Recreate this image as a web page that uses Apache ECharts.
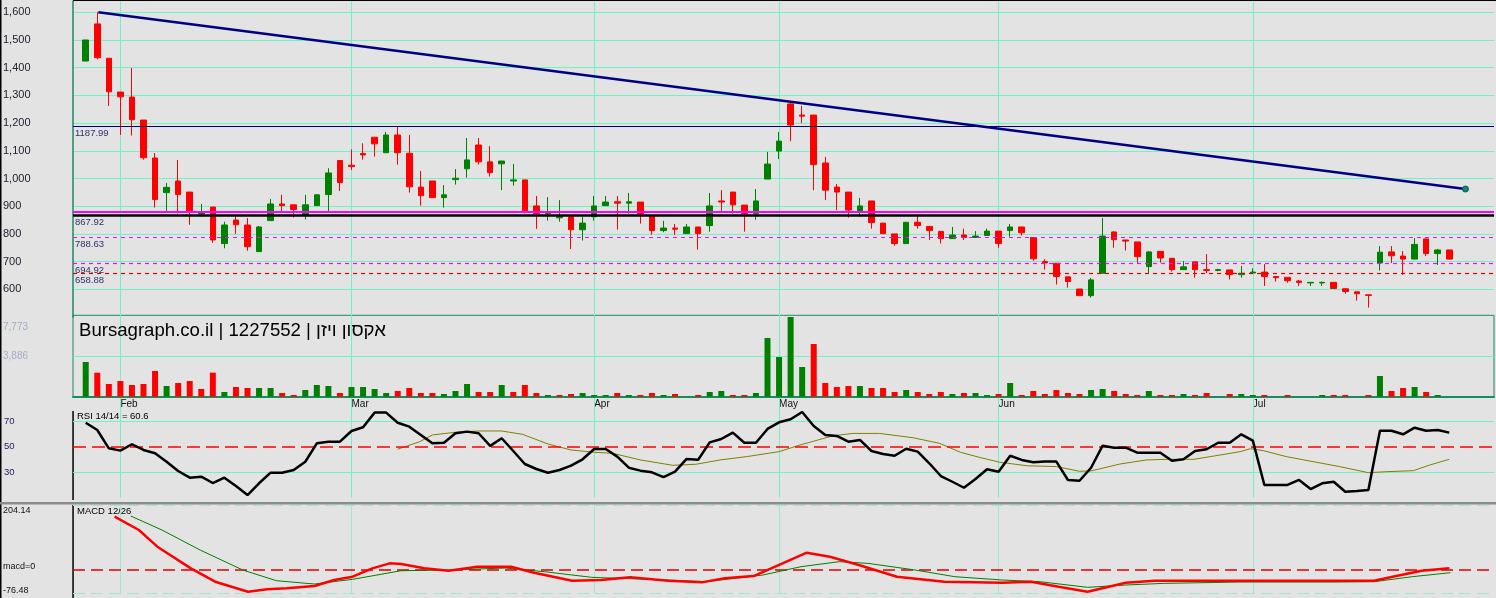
<!DOCTYPE html>
<html><head><meta charset="utf-8">
<style>html,body{margin:0;padding:0;background:#e3e3e3;overflow:hidden}#c{width:1496px;height:598px}</style>
<script src="https://cdn.jsdelivr.net/npm/echarts@6/dist/echarts.min.js"></script>
</head><body><div id="c"></div><script>
// ---------- DATA ----------
const openP  = [1424,1558,1434,1312,1294,1211,1074,949,991,951,872,897,765,850,832,736,848,908,905,868,902,942,1065,1048,1090,1149,1093,1157,1091,969,991,931,996,1035,1121,1060,1053,991,995,901,873,858,862,815,862,902,916,911,915,866,812,821,801,825,830,919,951,904,873,998,1099,1269,1229,1229,1056,969,951,879,919,839,800,765,842,827,809,783,796,787,794,810,812,825,787,700,694,645,601,577,658,807,778,771,682,737,712,671,699,671,668,670,653,659,662,646,643,630,623,623,625,602,591,580,695,735,720,709,782,729,742];
const closeP = [1500,1436,1313,1295,1212,1075,924,968,942,884,876,778,832,833,754,825,908,902,888,905,941,1020,985,1043,1085,1125,1157,1093,970,938,931,941,1001,1067,1060,1021,1063,995,884,873,877,862,815,839,901,915,911,916,872,812,821,817,825,801,901,915,905,873,919,1052,1135,1193,1225,1050,958,951,886,901,841,801,765,842,830,812,783,796,787,792,810,765,825,804,710,695,646,628,577,634,792,779,774,718,735,713,671,681,671,668,671,653,658,662,646,642,631,625,625,625,603,592,584,578,734,721,709,762,729,742,709];
const lowP   = [1424,1430,1262,1157,1155,1068,895,879,874,833,862,768,748,800,739,736,848,878,859,852,902,879,955,1031,1068,1079,1093,1050,949,902,931,895,978,1003,1050,1007,958,974,874,818,848,844,745,776,848,902,815,873,837,797,806,796,801,743,808,883,873,808,851,998,1070,1135,1200,958,922,886,859,862,819,801,757,765,819,778,765,783,778,787,794,750,790,794,703,671,617,606,577,570,658,750,740,695,659,696,664,671,642,658,665,635,642,659,612,628,624,612,612,612,603,584,559,534,668,695,652,709,720,688,709];
const highP  = [1500,1600,1434,1312,1399,1211,1092,984,1067,951,908,897,844,864,857,829,926,941,905,941,944,1037,1065,1105,1127,1149,1168,1187,1157,1027,991,976,1034,1146,1146,1117,1063,1052,995,937,933,922,862,862,937,937,937,948,915,866,847,836,836,825,948,958,951,904,962,1096,1168,1272,1262,1229,1078,980,951,930,919,839,800,842,865,827,809,825,819,810,819,810,836,825,787,709,694,645,601,641,857,810,778,771,738,737,712,702,699,727,674,670,684,676,691,648,643,634,625,628,625,602,591,580,756,756,738,785,782,746,742];
const volume = [3313,2294,1212,1499,1117,1212,2454,1022,1308,1499,735,2294,449,926,831,831,831,353,162,640,1117,1022,353,926,926,735,353,544,831,353,353,258,544,1212,449,449,1117,449,1117,353,162,162,258,353,162,162,353,162,162,353,162,258,0,162,449,544,162,162,353,5604,3790,7609,2836,5032,1308,926,1022,1022,831,831,449,640,449,258,449,258,353,353,162,258,1308,162,544,258,640,353,258,640,735,544,258,162,544,162,162,258,162,353,0,258,258,162,162,0,162,0,0,162,162,162,0,162,1976,544,831,926,449,162,0];
const volUp  = [1,0,0,0,0,0,0,1,0,0,0,0,1,0,0,1,1,0,0,1,1,1,0,1,1,1,1,0,0,0,0,1,1,1,0,0,1,0,0,0,1,0,0,1,1,1,0,1,0,0,1,0,0,0,1,1,0,0,1,1,1,1,1,0,0,0,0,1,0,0,0,1,0,0,0,1,0,1,1,0,1,0,0,0,0,0,0,1,1,0,0,0,1,0,0,1,0,0,0,0,1,1,0,0,0,0,0,1,0,0,0,0,1,0,0,1,0,1,0];
const rsi = [68.8,63.1,48.7,46.9,51.9,47.4,44.8,38.2,30.9,25.7,26.5,21.5,25.7,19.2,12.1,21.3,29.6,29.6,31.7,38.2,52.6,53.9,53.9,62.3,65.2,76.7,76.7,68.8,65.7,59.2,52.6,53.1,60.5,61.8,60.5,50.6,56.6,46.6,36.4,32.5,29.6,31.7,35.1,40.1,48.2,48.2,42.2,33.5,31.2,29.9,26.2,30.4,40.4,39.8,53.4,56,61,53.1,53.1,63.9,69.1,71.5,77.2,66.2,59.2,58.4,53.9,55.3,46.6,44.3,42.9,48.4,46.1,37,27,22.5,17.8,24.7,32.3,30.4,42.9,39.6,37.8,38.3,38.3,23.9,23.3,33.5,50.8,49.2,49.2,45.3,45.3,45.3,39,40.1,46.6,48,53.1,53.1,59.7,54.7,20,20,20,23.9,16.8,21.3,22.5,14.7,15.3,16,62.5,62.5,59.7,64.9,62.5,63.1,61];
const rsiMaX = [27,28.9,30,32,34,36,37.8,40,42,44,45.6,48,50.8,52.8,54.9,57.2,60,61.8,64.7,66.4,68.7,71.6,73.9,75.7,77.4,79.1,81.5,84,86,87,89.5,91.8,93.6,95.9,98.2,99.9,100.8,101.9,103.9,106.2,108.5,111,112.6,114.9,116.3,118];
const rsiMaV = [48,53.9,59.2,61.3,62.3,62.3,59.7,52.1,47.4,45.6,44.8,39.6,35.4,36.2,39.6,42.2,46.1,51.3,58.6,60.4,60.4,57,52.6,45.6,41.5,37.8,35,34.4,30.7,31,36.4,39.6,40.1,40.1,43.5,46.1,48.4,46.9,42.2,38.3,34.4,29.6,30.4,31.2,35.6,40.1];
const macdX = [2.5,4.6,6.2,9.1,11.2,14.05,15.7,17.4,19.8,21.5,23.1,24.8,26.3,27.3,29.3,31.4,33.9,36.8,38.8,42.1,44.6,47.1,50.4,53.3,55.3,57.8,60.3,62.4,64.4,66.9,70.2,74.3,79.3,81.8,84.2,86.7,90,92.5,99.9,108.2,111.5,113.1,115.6,118];
const macdV = [167.9,125.3,72.2,3.1,-39.5,-71.4,-63.9,-60.7,-53.3,-34.2,-23.5,3.1,19,16.9,3.1,-4.4,8.4,8.4,-10.8,-36.3,-34.1,-25.6,-36.3,-41.6,-28.8,-21.4,19,53,40.3,13.7,-23.5,-39.5,-42.7,-39.5,-55.4,-71.4,-42.7,-36.3,-36.3,-36.3,-36.3,-23.5,-4.4,3.1];
const sigX = [3.9,6.6,9.9,13.6,16.5,19.8,23.1,27.3,31.4,36.3,39.7,43.8,47.1,50.4,53.7,58.6,61.9,65.2,67.7,71.8,75.2,79.3,82.6,86.7,90,93.3,99.9,108.2,111.5,114.8,118.1];
const sigV = [170,125.3,61.5,-2.3,-36.3,-46.9,-32,-4.4,-2.3,4.1,-7.6,-25.6,-29.9,-34.1,-39.5,-18.2,8.4,24.3,19,-2.3,-23.5,-34.1,-39.5,-57.5,-50.1,-44.8,-40.5,-40.5,-39.5,-23.5,-10.8];
const trendX = [1.09, 119.4];
const trendY = [1600, 962];
const levelValues = [1187.99, 879, 867.92, 788.63, 694.92, 658.88];
const levelLabels = ['1187.99', '', '867.92', '788.63', '694.92', '658.88'];
const monthStarts = [3, 23, 44, 60, 79, 101];
const monthNames = ['Feb', 'Mar', 'Apr', 'May', 'Jun', 'Jul'];
const volTickLabels = ['3,886', '7,773'];
const macdTickValues = [-76.48, 0, 204.14];
const macdTickLabels = ['-76.48', 'macd=0', '204.14'];

// ---------- STYLES ----------
const FONT = '"Liberation Sans", Arial, sans-serif';
const AQUA = '#6ef3c6';
const AQUA_LIGHT = '#9de9d2';
const GB = '#1d8a62';
const T = 'rgba(0,0,0,0)';
const XMIN = -1.1, XMAX = 121.87;
const levelStyles = [
  {color:'#000080', width:1.2, type:'solid'},
  {color:'#ff00ff', width:2, type:'solid'},
  {color:'#000000', width:2.6, type:'solid'},
  {color:'#ff00ff', width:1.2, type:[4,4]},
  {color:'#ff00ff', width:1.2, type:[4,4]},
  {color:'#dd0000', width:1.2, type:[4,4]}
];

function monthLines(color, z) {
  return {silent:true, z:z, animation:false, symbol:['none','none'], label:{show:false},
    lineStyle:{color:color, width:1, type:'solid'},
    data: monthStarts.map(v => ({xAxis:v}))};
}

const candleData = openP.map((o,i) => [i, o, closeP[i], lowP[i], highP[i]]);

const xAxes = [0,1,2,3].map(g => ({type:'value', gridIndex:g, min:XMIN, max:XMAX,
  splitLine:{show:false}, axisTick:{show:false}, axisLabel:{show:false}, axisLine:{show:false, onZero:false}}));
xAxes[1].axisLine = {show:true, onZero:false, lineStyle:{color:GB, width:2}};
xAxes[1].axisLabel = {show:true, customValues:monthStarts, align:'left', margin:3, color:'#111', fontSize:10, fontFamily:FONT,
  formatter: v => { const k = monthStarts.indexOf(v); return k >= 0 ? monthNames[k] : ''; }};

const priceSplit = [T]; for (let k = 0; k < 11; k++) priceSplit.push(AQUA); priceSplit.push(T);

const option = {
  backgroundColor:'#e3e3e3',
  animation:false,
  textStyle:{fontFamily:FONT},
  title:{text:'Bursagraph.co.il | 1227552 | אקסון ויזן', left:79, top:321, padding:0,
    textStyle:{fontSize:18.6, fontWeight:'normal', color:'#000', fontFamily:FONT}},
  grid:[
    {left:73, right:2, top:1.2, height:315.8},
    {left:73, right:2, top:315.3, height:81.4, show:true, borderColor:GB, borderWidth:1, backgroundColor:T},
    {left:73, right:2, top:398.2, height:99.5},
    {left:73, right:2, top:505.3, height:88}
  ],
  xAxis: xAxes,
  yAxis:[
    {type:'value', gridIndex:0, min:500, max:1640, interval:100,
     axisLine:{show:true, onZero:false, lineStyle:{color:GB, width:1.5}}, axisTick:{show:false},
     splitLine:{show:true, lineStyle:{color:priceSplit, width:1}},
     axisLabel:{align:'left', margin:70, fontSize:11, color:'#222233', fontFamily:FONT,
       formatter: v => (v >= 600 && v <= 1600) ? v.toLocaleString('en-US') : ''}},
    {type:'value', gridIndex:1, min:0, max:7773, interval:3886.5,
     axisLine:{show:false, onZero:false}, axisTick:{show:false},
     splitLine:{show:true, lineStyle:{color:[T, AQUA, T], width:1}},
     axisLabel:{align:'left', margin:70, fontSize:10, color:'#a4adc6', fontFamily:FONT,
       formatter: v => v > 7000 ? '{a|' + volTickLabels[1] + '}' : (v > 3000 ? volTickLabels[0] : ''),
       rich:{a:{padding:[24,0,0,0], fontSize:10, color:'#a4adc6', fontFamily:FONT}}}},
    {type:'value', gridIndex:2, min:10, max:88, interval:20,
     axisLine:{show:false, onZero:false}, axisTick:{show:false},
     splitLine:{show:true, lineStyle:{color:[T, AQUA, T, AQUA, T], width:1}},
     axisLabel:{align:'left', margin:69, fontSize:9.5, color:'#1c1c5c', fontFamily:FONT,
       formatter: v => (v === 30 || v === 50 || v === 70) ? String(v) : ''}},
    {type:'value', gridIndex:3, min:-76.48, max:204.14,
     axisLine:{show:false, onZero:false}, axisTick:{show:false},
     splitLine:{show:false},
     axisLabel:{customValues:macdTickValues, align:'left', margin:70, fontSize:9, color:'#111', fontFamily:FONT,
       formatter: v => { const k = macdTickValues.indexOf(v); if (k < 0) return '';
         return (k === 2 ? '{t|' : '{b|') + macdTickLabels[k] + '}'; },
       rich:{t:{padding:[11,0,0,0], fontSize:9, color:'#111', fontFamily:FONT},
             b:{padding:[0,0,6,0], fontSize:9, color:'#111', fontFamily:FONT}}}}
  ],
  graphic:[
    {type:'rect', silent:true, shape:{x:0, y:0, width:1.5, height:598}, style:{fill:'#000'}},
    {type:'rect', silent:true, shape:{x:73, y:0, width:1423, height:1}, style:{fill:'#000'}},
    {type:'rect', silent:true, shape:{x:72.3, y:411, width:1.5, height:89}, style:{fill:'#000'}},
    {type:'rect', silent:true, shape:{x:72.3, y:505, width:1.5, height:93}, style:{fill:'#000'}},
    {type:'rect', silent:true, shape:{x:0, y:502, width:1496, height:2.5}, style:{fill:'#8c8c8c'}},
    {type:'text', silent:true, left:77, top:411, style:{text:'RSI 14/14 = 60.6', fontSize:9.5, fontFamily:FONT, fill:'#000'}},
    {type:'text', silent:true, left:77, top:506, style:{text:'MACD 12/26', fontSize:9.5, fontFamily:FONT, fill:'#000'}}
  ],
  series:[
    {type:'line', name:'trend', xAxisIndex:0, yAxisIndex:0, z:3, symbol:'none', showSymbol:true,
     lineStyle:{color:'#000080', width:2.5},
     data:[[trendX[0], trendY[0]],
           {value:[trendX[1], trendY[1]], symbol:'circle', symbolSize:6, itemStyle:{color:'#0a8a7a', borderColor:'#0a5a5a', borderWidth:1}}],
     markLine: monthLines(AQUA, 1)},
    {type:'candlestick', name:'price', xAxisIndex:0, yAxisIndex:0, z:2, barWidth:6,
     encode:{x:0, y:[1,2,3,4]},
     itemStyle:{color:'#008000', color0:'#ff0000', borderColor:'#008000', borderColor0:'#ff0000', borderWidth:1},
     data: candleData,
     markLine:{silent:true, z:5, animation:false, symbol:['none','none'],
       data: levelValues.map((v,i) => ({yAxis:v, lineStyle:levelStyles[i],
         label:{show: levelLabels[i] !== '', formatter: levelLabels[i] || ' ', position:'insideStartBottom',
           distance:[2,2], color:'#30306a', fontSize:9.5, fontFamily:FONT}}))}},
    {type:'bar', name:'volume', xAxisIndex:1, yAxisIndex:1, barWidth:6, z:2,
     data: volume.map((v,i) => ({value:[i, v], itemStyle:{color: volUp[i] ? '#008000' : '#ff0000'}})),
     markLine: monthLines(AQUA, 1)},
    {type:'line', name:'rsiMA', xAxisIndex:2, yAxisIndex:2, symbol:'none', z:2,
     lineStyle:{color:'#808000', width:1},
     data: rsiMaX.map((x,i) => [x, rsiMaV[i]]),
     markLine: monthLines(AQUA, 1)},
    {type:'line', name:'rsi', xAxisIndex:2, yAxisIndex:2, symbol:'none', z:4,
     lineStyle:{color:'#000', width:2.5},
     data: rsi.map((v,i) => [i, v]),
     markLine:{silent:true, z:3, animation:false, symbol:['none','none'], label:{show:false},
       data:[{yAxis:50, lineStyle:{color:'#ff0000', width:1.5, type:[13,6]}}]}},
    {type:'line', name:'signal', xAxisIndex:3, yAxisIndex:3, symbol:'none', z:3,
     lineStyle:{color:'#008000', width:1},
     data: sigX.map((x,i) => [x, sigV[i]]),
     markLine: monthLines(AQUA_LIGHT, 1)},
    {type:'line', name:'macd', xAxisIndex:3, yAxisIndex:3, symbol:'none', z:4,
     lineStyle:{color:'#ff0000', width:2.5},
     data: macdX.map((x,i) => [x, macdV[i]]),
     markLine:{silent:true, z:2, animation:false, symbol:['none','none'], label:{show:false},
       data:[
         {yAxis:0, lineStyle:{color:'#dd0000', width:1.5, type:[12,6]}},
         {yAxis:macdTickValues[2], lineStyle:{color:AQUA_LIGHT, width:1, type:[12,6]}},
         {yAxis:macdTickValues[0], lineStyle:{color:AQUA_LIGHT, width:1, type:[12,6]}}
       ]}}
  ]
};
const chart = echarts.init(document.getElementById('c'), null, {renderer:'canvas'});
chart.setOption(option);
</script></body></html>
